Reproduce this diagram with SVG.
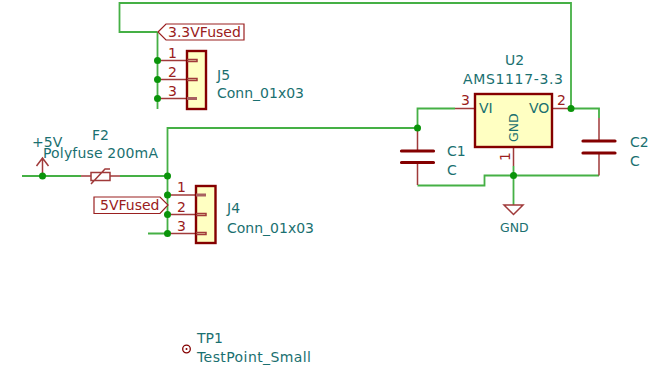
<svg xmlns="http://www.w3.org/2000/svg" width="660" height="371" viewBox="0 0 660 371">
<style>
text{font-family:"DejaVu Sans","Liberation Sans",sans-serif;font-size:14px}
.r{fill:#9a2020}.t{fill:#1a7070}
.g{font-size:12.500px}
.w{fill:none;stroke:#45b045;stroke-width:1.8}
.p{fill:none;stroke:#a03a3a;stroke-width:1.5}
.b{fill:#ffffc2;stroke:#840000;stroke-width:2.4}
.h{fill:#fff;stroke:#9a2020;stroke-width:1.200}
.c{fill:none;stroke:#840000;stroke-width:3.200;stroke-linecap:round}
.d{fill:#0a940a}
</style>
<rect width="660" height="371" fill="#fff"/>
<g id="connectors">
<path class="w" d="M157.500 32H119.500V3H571V108.500M157.500 32V109M22 176H81M120 176H167.500V128H417.500V108.500H455M417.500 185.500H484.500V175.500H513.500M513.500 166V205M513.500 175.500H599M571 108.500H599V118M148 233.500H167.500V176"/>
</g>
<g id="J5">
<path class="p" d="M157.500 60.500H187M157.500 79.500H187M157.500 98.500H187"/>
<rect class="b" x="187" y="51" width="19" height="58"/>
<path class="p" d="M187 59.500H197V61.500H187M187 78.500H197V80.500H187"/><rect x="187" y="97" width="10" height="3" fill="#a86060"/>
<circle class="d" cx="157.500" cy="60.500" r="3.500"/><circle class="d" cx="157.500" cy="79.500" r="3.500"/><circle class="d" cx="157.500" cy="98.500" r="3.500"/>
<text class="r" x="168" y="58">1</text><text class="r" x="168" y="77">2</text><text class="r" x="168" y="96">3</text>
<text class="t" x="217" y="80">J5</text><text class="t" x="217" y="98">Conn_01x03</text>
</g>
<g id="label-3V3">
<path class="h" d="M158 32L166 24H244V40H166Z"/><text class="r" x="168" y="37">3.3VFused</text>
</g>
<g id="PWR-5V">
<path class="p" d="M42.500 176V158M36.500 166L42.500 158L48.500 166"/><circle class="d" cx="42.500" cy="176" r="3.500"/>
<text class="t" x="32" y="147">+5V</text>
</g>
<g id="F2">
<path class="p" d="M81 176H91M110 176H120M91 172.500H110V180.500H91ZM91 184L105 169H110"/>
<text class="t" x="92" y="140">F2</text><text class="t" x="43" y="158" textLength="115">Polyfuse 200mA</text>
</g>
<g id="J4">
<path class="p" d="M167.500 195H196M167.500 214.500H196M167.500 233.500H196"/>
<rect class="b" x="196" y="186" width="19.500" height="57"/>
<rect x="196" y="193.500" width="10" height="3" fill="#a86060"/><path class="p" d="M196 213.500H206V215.500H196M196 232.500H206V234.500H196"/>
<circle class="d" cx="167.500" cy="176" r="3.500"/><circle class="d" cx="167.500" cy="195" r="3.500"/><circle class="d" cx="167.500" cy="214.500" r="3.500"/><circle class="d" cx="167.500" cy="233.500" r="3.500"/>
<text class="r" x="177" y="192">1</text><text class="r" x="177" y="212">2</text><text class="r" x="177" y="231">3</text>
<text class="t" x="227" y="213">J4</text><text class="t" x="227" y="233">Conn_01x03</text>
</g>
<g id="label-5V">
<path class="h" d="M94 197H160L168 205L160 213.500H94Z"/><text class="r" x="100" y="210">5VFused</text>
</g>
<g id="C1">
<path class="p" d="M417.500 128V150M417.500 163V185"/><path class="c" d="M401.500 151H433.500M401.500 162.500H433.500"/>
<circle class="d" cx="417.500" cy="128" r="3.500"/>
<text class="t" x="447" y="156">C1</text><text class="t" x="447" y="175">C</text>
</g>
<g id="U2">
<path class="p" d="M455 108.500H475M552 108.500H571M513.500 147.500V166"/>
<rect class="b" x="475" y="94" width="77" height="53"/>
<circle class="d" cx="571" cy="108.500" r="3.500"/><circle class="d" cx="513.500" cy="175.500" r="3.500"/>
<text class="r" x="461" y="105">3</text><text class="r" x="557" y="105">2</text>
<text class="r" transform="translate(509.500 161) rotate(-90)" x="0" y="0">1</text>
<text class="t" x="479" y="113">VI</text><text class="t" x="529" y="113">VO</text>
<text class="t g" transform="translate(517.500 142) rotate(-90)" x="0" y="0">GND</text>
<text class="t" x="505" y="65">U2</text><text class="t" x="463" y="84" textLength="100">AMS1117-3.3</text>
</g>
<g id="C2">
<path class="p" d="M599 118V140M599 153V175.500"/><path class="c" d="M583 141H615M583 153H615"/>
<text class="t" x="630" y="147">C2</text><text class="t" x="630" y="166">C</text>
</g>
<g id="GND">
<path class="p" d="M513.500 205H504L513.500 214.500L523 205H513.500"/>
<text class="t g" x="500" y="232">GND</text>
</g>
<g id="TP1">
<circle cx="186.500" cy="349" r="3.800" fill="none" stroke="#840000" stroke-width="1.300"/><circle cx="186.500" cy="349" r="1" fill="#840000"/>
<text class="t" x="197" y="343">TP1</text><text class="t" x="197" y="362" textLength="114">TestPoint_Small</text>
</g>
</svg>
